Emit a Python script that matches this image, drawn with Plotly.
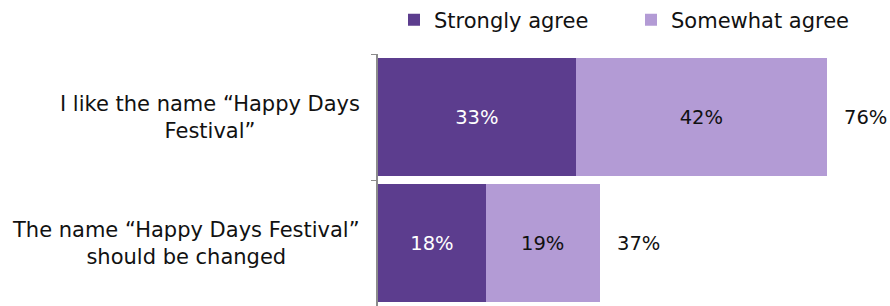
import plotly.graph_objects as go

categories = ["I like the name “Happy Days<br>Festival”",
              "The name “Happy Days Festival”<br>should be changed"]
strongly_agree = [33, 18]
somewhat_agree = [42, 19]
total_labels = ["76%", "37%"]

DARK = "#5c3d8e"
LIGHT = "#b39bd5"
FONT = "DejaVu Sans"
TXT = "#111111"

cat_ids = ["c1", "c2"]

fig = go.Figure()
fig.add_trace(go.Bar(
    y=cat_ids, x=strongly_agree, orientation="h", name="Strongly agree",
    marker=dict(color=DARK, line=dict(width=0)),
    text=[f"{v}%" for v in strongly_agree], textposition="inside",
    insidetextanchor="middle", textfont=dict(color="white", size=19.5, family=FONT),
))
fig.add_trace(go.Bar(
    y=cat_ids, x=somewhat_agree, orientation="h", name="Somewhat agree",
    marker=dict(color=LIGHT, line=dict(width=0)),
    text=[f"{v}%" for v in somewhat_agree], textposition="inside",
    insidetextanchor="middle", textfont=dict(color=TXT, size=19.5, family=FONT),
))

for cid, cat, s, w, t in zip(cat_ids, categories, strongly_agree, somewhat_agree, total_labels):
    fig.add_annotation(x=s + w, y=cid, text=t, showarrow=False, xanchor="left",
                       xshift=15, font=dict(size=19.5, color=TXT, family=FONT))
    fig.add_annotation(x=0, xref="paper", y=cid, text=cat, showarrow=False,
                       xanchor="right", xshift=-16, align="center",
                       font=dict(size=21, color=TXT, family=FONT))

fig.update_layout(
    width=890, height=306,
    margin=dict(l=378, r=0, t=54, b=0, autoexpand=False),
    barmode="stack", bargap=0.07,
    paper_bgcolor="white", plot_bgcolor="white",
    font=dict(family=FONT, size=18, color=TXT),
    showlegend=True,
    legend=dict(orientation="h", xref="container", x=(414 - 20) / 890, xanchor="left",
                yref="container", y=1 - 20 / 306, yanchor="middle",
                traceorder="normal",
                font=dict(size=21, family=FONT, color=TXT),
                entrywidth=192, entrywidthmode="pixels",
                bgcolor="rgba(0,0,0,0)", itemclick=False),
    xaxis=dict(range=[0, 85.5], visible=False, fixedrange=True),
    yaxis=dict(autorange="reversed", showticklabels=False, showline=True,
               linecolor="#8c8c8c", linewidth=1.5, ticks="outside", ticklen=5,
               tickcolor="#8c8c8c", tickson="boundaries", showgrid=False,
               zeroline=False, fixedrange=True, automargin=False),
)

fig.write_html("out.html", config={"displayModeBar": False},
               post_script="document.body.style.margin='0';document.body.style.overflow='hidden';")
